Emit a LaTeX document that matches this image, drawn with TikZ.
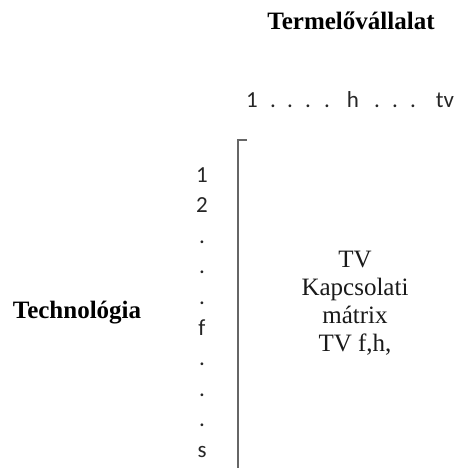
\documentclass[tikz,border=0pt]{standalone}
\usepackage{fontspec}
\setmainfont{Liberation Serif}
\newfontfamily\calib{Carlito}
\begin{document}
\begin{tikzpicture}[x=1pt,y=1pt,
  serifbold/.style={inner sep=0pt, anchor=base, font=\fontsize{25}{28}\selectfont\bfseries, text=black},
  seriftext/.style={inner sep=0pt, anchor=base, font=\fontsize{25}{28}\selectfont, text=black!90},
  idx/.style={inner sep=0pt, anchor=base, font=\calib\fontsize{23}{26}\selectfont, text=black!85},
  bracket/.style={draw=black!60, line width=2pt}]
\useasboundingbox (0,0) rectangle (460,-468);
% titles
\node[serifbold] (termelo) at (351,-30) {Termelővállalat};
\node[serifbold] (techno) at (77,-318) {Technológia};
% column indices
\node[idx] (c1) at (252,-107) {1};
\node[idx] (cd1) at (273,-107) {.};
\node[idx] (cd2) at (290,-107) {.};
\node[idx] (cd3) at (308,-107) {.};
\node[idx] (cd4) at (327,-107) {.};
\node[idx] (ch) at (353,-107) {h};
\node[idx] (cd5) at (377,-107) {.};
\node[idx] (cd6) at (395,-107) {.};
\node[idx] (cd7) at (413,-107) {.};
\node[idx] (ctv) at (445,-107) {tv};
% row indices
\node[idx] (r1) at (202,-182) {1};
\node[idx] (r2) at (202,-212.6) {2};
\node[idx] (rd1) at (202,-243.2) {.};
\node[idx] (rd2) at (202,-273.8) {.};
\node[idx] (rd3) at (202,-304.4) {.};
\node[idx] (rf) at (202,-335) {f};
\node[idx] (rd4) at (202,-365.6) {.};
\node[idx] (rd5) at (202,-396.2) {.};
\node[idx] (rd6) at (202,-426.8) {.};
\node[idx] (rs) at (202,-457.4) {s};
% bracket
\coordinate (bt) at (247,-140);
\coordinate (bc) at (238,-140);
\coordinate (bb) at (238,-468);
\draw[bracket] (bt) -- (bc) -- (bb);
% matrix text
\node[seriftext] (m1) at (355,-267) {TV};
\node[seriftext] (m2) at (355,-295) {Kapcsolati};
\node[seriftext] (m3) at (355,-323) {mátrix};
\node[seriftext] (m4) at (355,-351) {TV f,h,};
\end{tikzpicture}
\end{document}
